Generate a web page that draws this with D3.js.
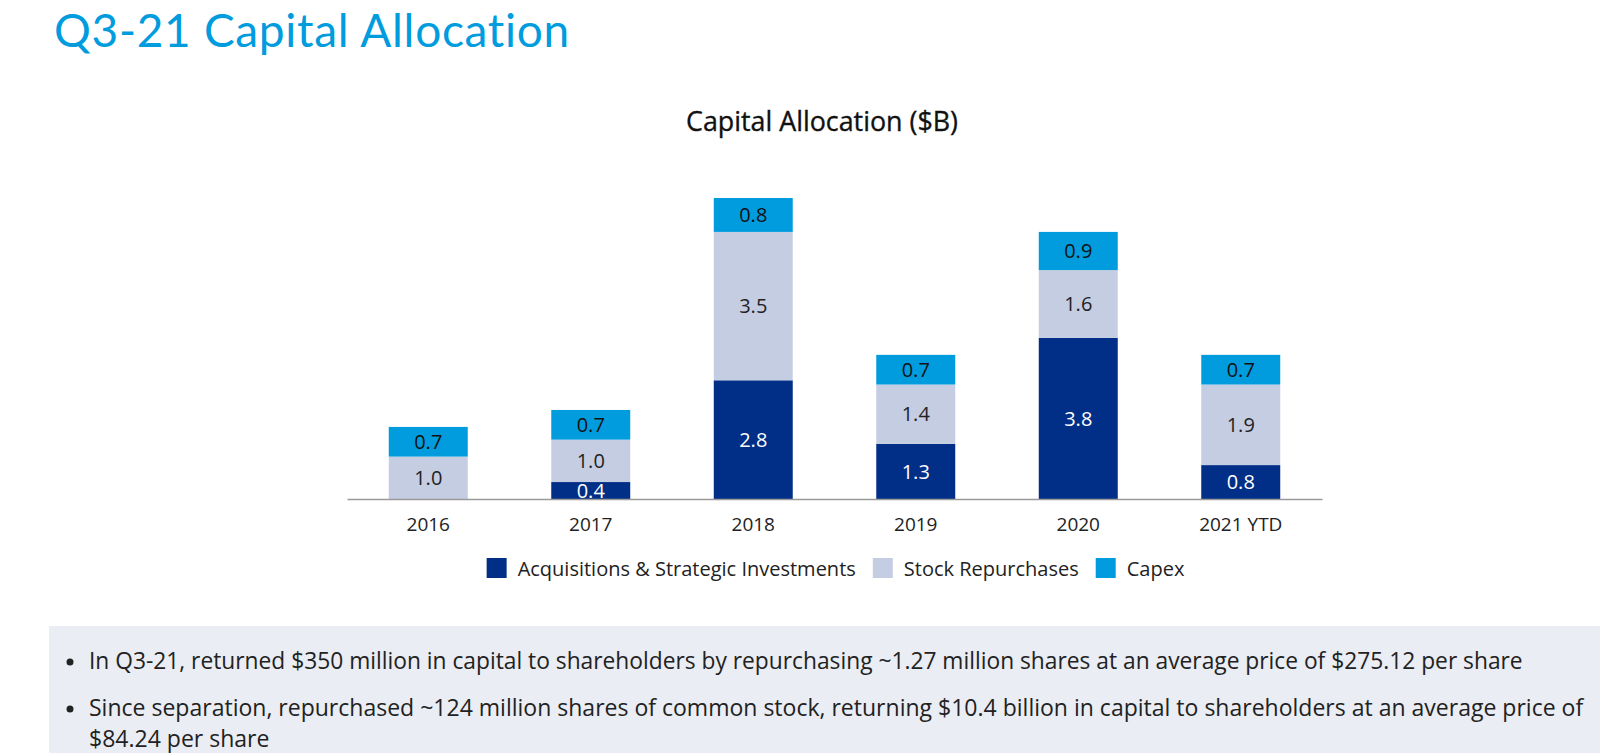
<!DOCTYPE html>
<html>
<head>
<meta charset="utf-8">
<script src="https://cdn.jsdelivr.net/npm/d3@7"></script>
<style>
  html, body { margin: 0; padding: 0; background: #fff; }
  svg { display: block; font-family: "Open Sans", "Noto Sans", sans-serif; }
</style>
</head>
<body>
<svg id="chart" width="1600" height="753"></svg>
<script>
// ---- data ----
const categories = ["2016", "2017", "2018", "2019", "2020", "2021 YTD"];
const acquisitions = [0, 0.4, 2.8, 1.3, 3.8, 0.8];
const repurchases = [1.0, 1.0, 3.5, 1.4, 1.6, 1.9];
const capex = [0.7, 0.7, 0.8, 0.7, 0.9, 0.7];
const seriesNames = ["Acquisitions & Strategic Investments", "Stock Repurchases", "Capex"];
const pageTitle = "Q3-21 Capital Allocation";
const chartTitle = "Capital Allocation ($B)";
const bullets = [
  ["In Q3-21, returned $350 million in capital to shareholders by repurchasing ~1.27 million shares at an average price of $275.12 per share"],
  ["Since separation, repurchased ~124 million shares of common stock, returning $10.4 billion in capital to shareholders at an average price of", "$84.24 per share"]
];

const colors = ["#012f87", "#c5cde2", "#009cde"];
const labelColors = ["#ffffff", "#222222", "#111111"];
const keys = ["acq", "rep", "cap"];

const table = categories.map((c, i) => ({ cat: c, acq: acquisitions[i], rep: repurchases[i], cap: capex[i] }));
const stacked = d3.stack().keys(keys)(table);

const svg = d3.select("#chart");

function fitText(sel, target) {
  const node = sel.node();
  const size = parseFloat(sel.attr("font-size"));
  const w = node.getComputedTextLength();
  const ns = size * target / w;
  sel.attr("font-size", ns.toFixed(2));
  return ns;
}
function fitSpacing(sel, target) {
  const node = sel.node();
  const w = node.getComputedTextLength();
  const n = sel.text().length;
  sel.attr("letter-spacing", ((target - w) / (n - 1)).toFixed(3));
}

// page title
const t = svg.append("text")
  .attr("x", 54).attr("y", 47)
  .attr("font-size", 46)
  .attr("font-family", "Lato, 'Open Sans', sans-serif")
  .attr("fill", "#009cde")
  .text(pageTitle);
fitSpacing(t, 516);

// chart title
const ct = svg.append("text")
  .attr("x", 822).attr("y", 131)
  .attr("text-anchor", "middle")
  .attr("font-size", 22)
  .attr("font-weight", 500)
  .attr("fill", "#111")
  .attr("stroke", "#111").attr("stroke-width", 0.35)
  .text(chartTitle);
fitText(ct, 272);

// scales
const x = d3.scaleBand().domain(categories).range([347, 1322]).paddingInner(0.514).paddingOuter(0.257);
const y = d3.scaleLinear().domain([0, 7.1]).range([499, 198]);

// bars
const g = svg.append("g");
stacked.forEach((layer, li) => {
  g.selectAll(null).data(layer).join("rect")
    .attr("x", d => x(d.data.cat))
    .attr("y", d => y(d[1]))
    .attr("width", x.bandwidth())
    .attr("height", d => y(d[0]) - y(d[1]))
    .attr("fill", colors[li]);
  g.selectAll(null).data(layer.filter(d => d[1] - d[0] > 0)).join("text")
    .attr("x", d => x(d.data.cat) + x.bandwidth() / 2)
    .attr("y", d => (y(d[0]) + y(d[1])) / 2)
    .attr("dy", "0.36em")
    .attr("text-anchor", "middle")
    .attr("font-size", 20)
    .attr("fill", labelColors[li])
    .text(d => (d[1] - d[0]).toFixed(1));
});

// axis
const axis = svg.append("g")
  .attr("transform", "translate(0,499)")
  .call(d3.axisBottom(x).tickSize(0).tickSizeOuter(0).tickPadding(19));
axis.select(".domain").attr("stroke", "#9a9a9a").attr("stroke-width", 1.5);
axis.selectAll(".tick text")
  .attr("font-size", 19)
  .attr("fill", "#222")
  .attr("font-family", "Open Sans, Noto Sans, sans-serif");

// legend
const legend = svg.append("g");
let cx = 0;
seriesNames.forEach((name, i) => {
  const it = legend.append("g");
  it.append("rect").attr("x", cx).attr("y", 558).attr("width", 20).attr("height", 20).attr("fill", colors[i]);
  const tx = it.append("text").attr("x", cx + 31).attr("y", 576).attr("font-size", 20).attr("fill", "#222").text(name);
  cx += 31 + tx.node().getComputedTextLength() + 17;
});
const lw = cx - 17;
legend.attr("transform", `translate(${(x.range()[0] + x.range()[1]) / 2 - lw / 2 + 1},0)`);

// bottom box
svg.append("rect").attr("x", 49).attr("y", 626).attr("width", 1551).attr("height", 127).attr("fill", "#eaedf4");
const lineYs = [[669], [716, 747]];
bullets.forEach((lines, bi) => {
  svg.append("circle").attr("cx", 70).attr("cy", lineYs[bi][0] - 7).attr("r", 3.5).attr("fill", "#222");
  let size = 20;
  lines.forEach((ln, li) => {
    const tt = svg.append("text").attr("x", 89).attr("y", lineYs[bi][li]).attr("font-size", size).attr("fill", "#222").text(ln);
    if (li === 0) size = fitText(tt, bi === 0 ? 1434 : 1495);
  });
});
</script>
</body>
</html>
